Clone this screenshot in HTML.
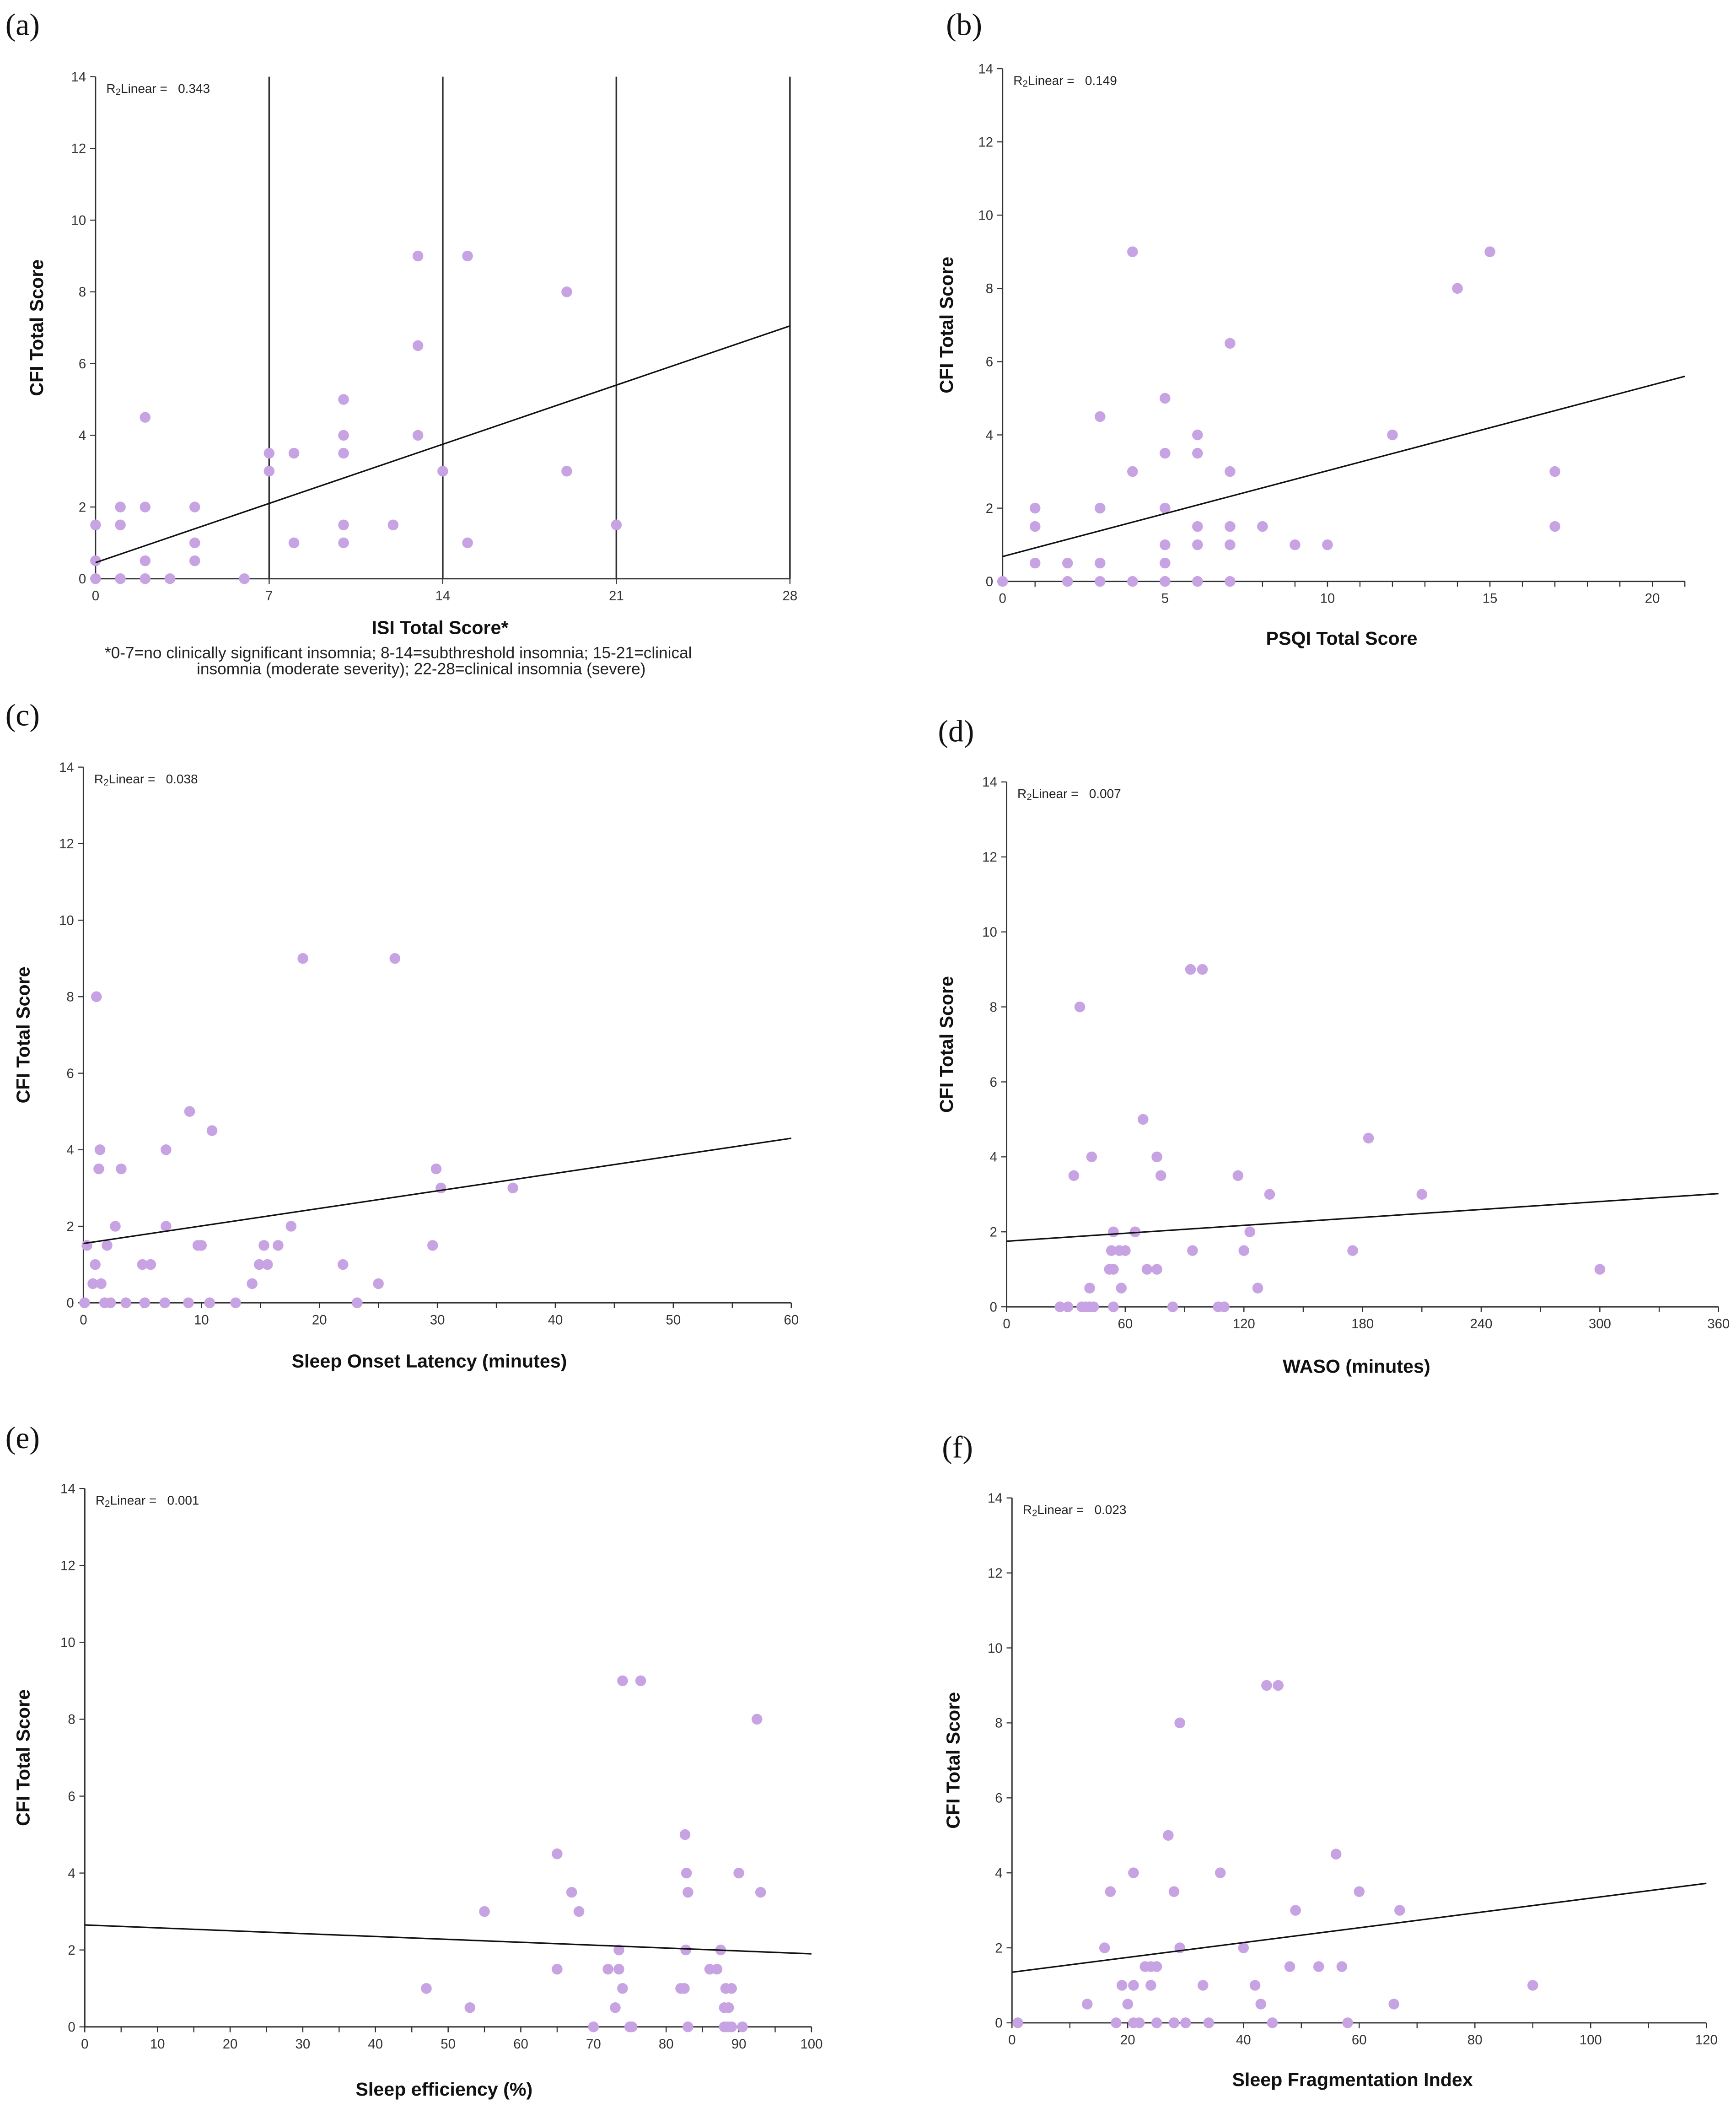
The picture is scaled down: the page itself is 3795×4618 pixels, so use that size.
<!DOCTYPE html>
<html><head><meta charset="utf-8"><style>
html,body{margin:0;padding:0;background:#fff;}
svg{display:block;}
text{font-family:"Liberation Sans",Arial,sans-serif;fill:#222;}
.pl{font-family:"Liberation Serif",serif;font-size:23px;fill:#111;}
.tk{font-size:10px;fill:#333;}
.at{font-size:14px;font-weight:bold;fill:#111;}
.r2{font-size:9.5px;fill:#222;}
</style></head><body>
<svg id="fig" width="3795" height="4618" viewBox="0 0 1290 1570" preserveAspectRatio="none" xmlns="http://www.w3.org/2000/svg"></svg>
<script>
// Panel (a) ISI
const aX = [0,0,0,1,1,1,2,2,2,2,3,4,4,4,6,7,7,8,8,10,10,10,10,10,12,13,13,13,14,15,15,19,19,21];
const aY = [0,0.5,1.5,0,1.5,2,0,0.5,2,4.5,0,0.5,1,2,0,3,3.5,1,3.5,1,1.5,3.5,4,5,1.5,4,6.5,9,3,1,9,3,8,1.5];
const aTicks = [0,7,14,21,28];
const aFit = [0.45,7.05];
// Panel (b) PSQI
const bX = [0,1,1,1,2,2,3,3,3,3,4,4,4,5,5,5,5,5,5,6,6,6,6,6,7,7,7,7,7,8,9,10,12,14,15,17,17];
const bY = [0,0.5,1.5,2,0,0.5,0,0.5,2,4.5,0,3,9,0,0.5,1,2,3.5,5,0,1,1.5,3.5,4,0,1,1.5,3,6.5,1.5,1,1,4,8,9,1.5,3];
const bTicks = [0,5,10,15,20];
const bFit = [0.68,5.6];
// Panel (c) Sleep onset latency
const cX = [0.1,0.3,0.8,1,1.1,1.3,1.4,1.5,1.8,2,2.3,2.7,3.2,3.6,5,5.2,5.7,6.9,7,7,8.9,9,9.7,10,10.7,10.9,12.9,14.3,14.9,15.3,15.6,16.5,17.6,18.6,22,23.2,25,26.4,29.6,29.9,30.3,36.4];
const cY = [0,1.5,0.5,1,8,3.5,4,0.5,0,1.5,0,2,3.5,0,1,0,1,0,2,4,0,5,1.5,1.5,0,4.5,0,0.5,1,1.5,1,1.5,2,9,1,0,0.5,9,1.5,3.5,3,3];
const cTicks = [0,10,20,30,40,50,60];
const cFit = [1.55,4.3];
// Panel (d) WASO
const dX = [27,31,34,37,38,40,42,42,43,44,52,53,54,54,54,57,58,60,65,69,71,76,76,78,84,93,94,99,107,110,117,120,123,127,133,175,183,210,300];
const dY = [0,0,3.5,8,0,0,0,0.5,4,0,1,1.5,0,1,2,1.5,0.5,1.5,2,5,1,1,4,3.5,0,9,1.5,9,0,0,3.5,1.5,2,0.5,3,1.5,4.5,3,1];
const dTicks = [0,60,120,180,240,300,360];
const dFit = [1.75,3.02];
// Panel (e) Sleep efficiency
const eX = [47,53,55,65,65,67,68,70,72,73,73.5,73.5,74,74,75,75.3,76.5,82,82.5,82.7,82.6,82.8,83,83,86,87,87.5,88,88,88.2,88.5,88.6,89,89,90,90.5,92.5,93];
const eY = [1,0.5,3,1.5,4.5,3.5,3,0,1.5,0.5,1.5,2,1,9,0,0,9,1,1,2,5,4,3.5,0,1.5,1.5,2,0.5,0,1,0,0.5,1,0,4,0,8,3.5];
const eTicks = [0,10,20,30,40,50,60,70,80,90,100];
const eFit = [2.65,1.9];
// Panel (f) Sleep fragmentation index
const fX = [1,13,16,17,18,19,20,21,21,21,22,23,24,24,25,25,27,28,28,29,29,30,33,34,36,40,42,43,44,45,46,48,49,53,56,57,58,60,66,67,90];
const fY = [0,0.5,2,3.5,0,1,0.5,1,4,0,0,1.5,1.5,1,1.5,0,5,0,3.5,2,8,0,1,0,4,2,1,0.5,9,0,9,1.5,3,1.5,4.5,1.5,0,3.5,0.5,3,1];
const fTicks = [0,20,40,60,80,100,120];
const fFit = [1.35,3.72];
const yTicks = [0,2,4,6,8,10,12,14];

const NS = 'http://www.w3.org/2000/svg';
const svg = document.getElementById('fig');
function mk(tag, attrs, parent, txt){
  const e = document.createElementNS(NS, tag);
  for (const k in attrs) e.setAttribute(k, attrs[k]);
  if (txt !== undefined) e.textContent = txt;
  parent.appendChild(e);
  return e;
}
function panel(cfg){
  const g = mk('g', {}, svg);
  
  
  const sx = v => cfg.x0 + (v - cfg.xmin) / (cfg.xmax - cfg.xmin) * (cfg.x1 - cfg.x0);
  const sy = v => cfg.y0 - v / 14 * (cfg.y0 - cfg.y1);
  const lab = mk('text', {x: cfg.lx, y: cfg.ly, class: 'pl'}, g, '(' + cfg.id + ')');
  
  
  const ya = mk('line', {x1: cfg.x0, y1: cfg.y0, x2: cfg.x0, y2: cfg.y1, stroke: '#333', 'stroke-width': 1}, g);
  
  
  const xa = mk('line', {x1: cfg.x0, y1: cfg.y0, x2: cfg.x1, y2: cfg.y0, stroke: '#333', 'stroke-width': 1}, g);
  
  
  yTicks.forEach(t => {
    mk('line', {x1: cfg.x0 - 4, y1: sy(t), x2: cfg.x0, y2: sy(t), stroke: '#333', 'stroke-width': 0.8}, g);
    const tl = mk('text', {x: cfg.x0 - 7, y: sy(t) + 3.5, class: 'tk', 'text-anchor': 'end'}, g, t);
    
    
  });
  if (cfg.minor) {
    for (let v = cfg.xmin; v <= cfg.xmax + 1e-9; v += cfg.minor)
      mk('line', {x1: sx(v), y1: cfg.y0, x2: sx(v), y2: cfg.y0 + 4, stroke: '#333', 'stroke-width': 0.8}, g);
  }
  cfg.ticks.forEach(t => {
    mk('line', {x1: sx(t), y1: cfg.y0, x2: sx(t), y2: cfg.y0 + 4, stroke: '#333', 'stroke-width': 0.8}, g);
    const tl = mk('text', {x: sx(t), y: cfg.y0 + 16, class: 'tk', 'text-anchor': 'middle'}, g, t);
    
    
  });
  if (cfg.vlines) cfg.vlines.forEach(v => {
    const vl = mk('line', {x1: sx(v), y1: cfg.y0, x2: sx(v), y2: cfg.y1, stroke: '#333', 'stroke-width': 1.2}, g);
    
    
  });
  cfg.xs.forEach((xv, i) => {
    const c = mk('circle', {cx: sx(xv), cy: sy(cfg.ys[i]), r: 4, fill: '#c7a3e3'}, g);
    
    
  });
  const fl = mk('line', {x1: sx(cfg.xmin), y1: sy(cfg.fit[0]), x2: sx(cfg.xmax), y2: sy(cfg.fit[1]), stroke: '#111', 'stroke-width': 1.1}, g);
  
  
  const r2 = mk('text', {x: cfg.x0 + 8, y: cfg.y1 + 12, class: 'r2'}, g);
  
  
  mk('tspan', {}, r2, 'R');
  mk('tspan', {'font-size': '7', dy: '1.5'}, r2, '2');
  mk('tspan', {dy: '-1.5'}, r2, 'Linear =\u00a0\u00a0\u00a0' + cfg.r2);
  const yt = mk('text', {x: 0, y: 0, class: 'at', 'text-anchor': 'middle', transform: 'translate(' + cfg.ytx + ',' + ((cfg.y0 + cfg.y1) / 2) + ') rotate(-90)'}, g, 'CFI Total Score');
  
  
  const xt = mk('text', {x: cfg.xtx, y: cfg.xty, class: 'at', 'text-anchor': 'middle'}, g, cfg.xtitle);
  
  
  return g;
}
panel({id:'a', xs:aX, ys:aY, ticks:aTicks, fit:aFit, xmin:0, xmax:28, x0:71, x1:587, y0:430, y1:57, lx:4, ly:26, ytx:32, xtx:327, xty:471, xtitle:'ISI Total Score*', r2:'0.343', vlines:[7,14,21,28]});
panel({id:'b', xs:bX, ys:bY, ticks:bTicks, fit:bFit, xmin:0, xmax:21, x0:745, x1:1252, y0:432, y1:51, lx:703, ly:26, ytx:708, xtx:997, xty:479, xtitle:'PSQI Total Score', r2:'0.149', minor:1});
panel({id:'c', xs:cX, ys:cY, ticks:cTicks, fit:cFit, xmin:0, xmax:60, x0:62, x1:588, y0:968, y1:570, lx:4, ly:539, ytx:22, xtx:319, xty:1016, xtitle:'Sleep Onset Latency (minutes)', r2:'0.038', minor:5});
panel({id:'d', xs:dX, ys:dY, ticks:dTicks, fit:dFit, xmin:0, xmax:360, x0:748, x1:1277, y0:971, y1:581, lx:697, ly:551, ytx:708, xtx:1008, xty:1020, xtitle:'WASO (minutes)', r2:'0.007', minor:30});
panel({id:'e', xs:eX, ys:eY, ticks:eTicks, fit:eFit, xmin:0, xmax:100, x0:63, x1:603, y0:1506, y1:1106, lx:4, ly:1076, ytx:22, xtx:330, xty:1557, xtitle:'Sleep efficiency (%)', r2:'0.001', minor:5});
panel({id:'f', xs:fX, ys:fY, ticks:fTicks, fit:fFit, xmin:0, xmax:120, x0:752, x1:1268, y0:1503, y1:1113, lx:700, ly:1083, ytx:713, xtx:1005, xty:1550, xtitle:'Sleep Fragmentation Index', r2:'0.023', minor:10});
</script>
<svg style="position:absolute;left:0;top:0" width="3795" height="4618" viewBox="0 0 1290 1570" preserveAspectRatio="none">
<text x="296" y="489" text-anchor="middle" style="font-size:12px">*0-7=no clinically significant insomnia; 8-14=subthreshold insomnia; 15-21=clinical</text>
<text x="313" y="501" text-anchor="middle" style="font-size:12px">insomnia (moderate severity); 22-28=clinical insomnia (severe)</text>
</svg>
</body></html>
